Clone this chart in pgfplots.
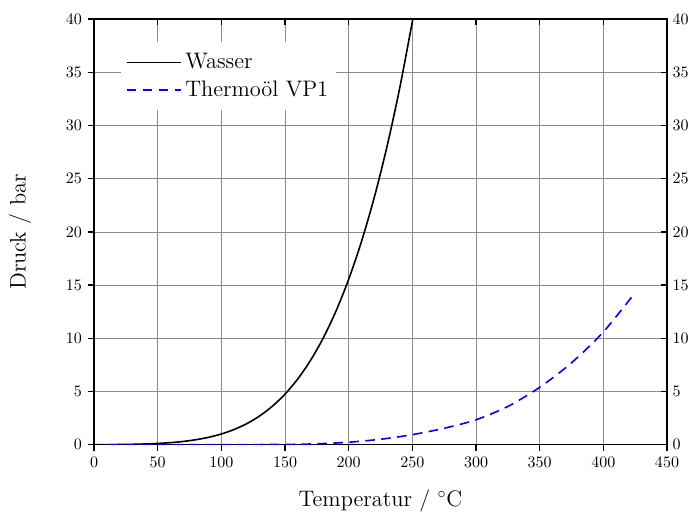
\documentclass[border=0pt]{standalone}
\usepackage{pgfplots}
\pgfplotsset{compat=1.18}
\begin{document}
\begin{tikzpicture}
\pgfplotsset{
  myaxis/.style={
    scale only axis, width=358pt, height=266pt,
    xmin=0, xmax=450, ymin=0, ymax=40,
    xtick={0,50,...,450}, ytick={0,5,...,40},
    tick label style={font=\normalsize},
    tick align=outside,
    major tick length=4pt,
    axis line style={line width=0.8pt},
    every tick/.style={black, line width=0.8pt},
  }
}
\begin{axis}[myaxis, name=main,
  xtick pos=bottom, ytick pos=left,
  grid=major, grid style={black!45, line width=0.5pt},
  xlabel={Temperatur / $^\circ$C},
  ylabel={Druck / bar},
  label style={font=\fontsize{14}{16.8}\selectfont},
  xlabel style={at={(axis description cs:0.5,-0.132)}, anchor=center},
  ylabel style={at={(axis description cs:-0.129,0.5)}, anchor=center},
  legend style={at={(0.047,0.946)}, anchor=north west, draw=none, fill=white,
    font=\fontsize{14}{16.8}\selectfont, row sep=2pt, inner xsep=3pt, inner ysep=5pt},
  legend cell align=left,
  legend image code/.code={\draw[#1] (0pt,0pt) -- (34pt,0pt);},
  clip=true,
]
\addplot[black, line width=1pt, smooth] coordinates {
(0,0.0061)(10,0.0123)(20,0.0234)(30,0.0425)(40,0.0738)(50,0.1235)(60,0.1995)(70,0.3120)(80,0.4741)(90,0.7018)(100,1.0142)(110,1.4338)(120,1.9867)(130,2.7026)(140,3.6154)(150,4.7616)(160,6.1823)(170,7.9219)(180,10.028)(190,12.552)(200,15.549)(210,19.077)(220,23.196)(230,27.971)(240,33.469)(250,39.762)(251,40.5)
};
\addlegendentry{Wasser}
\addplot[blue, line width=1pt, dash pattern=on 6pt off 4pt, smooth] coordinates {
(12,0.0)(50,0.0005)(100,0.006)(150,0.035)(175,0.09)(200,0.24)(225,0.52)(250,0.95)(275,1.55)(300,2.35)(325,3.6)(350,5.4)(375,7.7)(400,10.6)(425,14.3)
};
\addlegendentry{Thermo\"ol VP1}
\end{axis}
\begin{axis}[myaxis,
  axis x line=none, axis y line*=right,
  ytick pos=right, yticklabel pos=right,
  tick align=inside,
]
\addplot[draw=none] coordinates {(0,0)};
\end{axis}
\begin{axis}[myaxis, hide y axis, axis x line*=top, xticklabels={}, tick align=inside]
\addplot[draw=none] coordinates {(0,0)};
\end{axis}
\pgfresetboundingbox
\path ([shift={(-58.75pt,-42.5pt)}]main.south west) rectangle ([shift={(17.5pt,11.9pt)}]main.north east);
\end{tikzpicture}
\end{document}
